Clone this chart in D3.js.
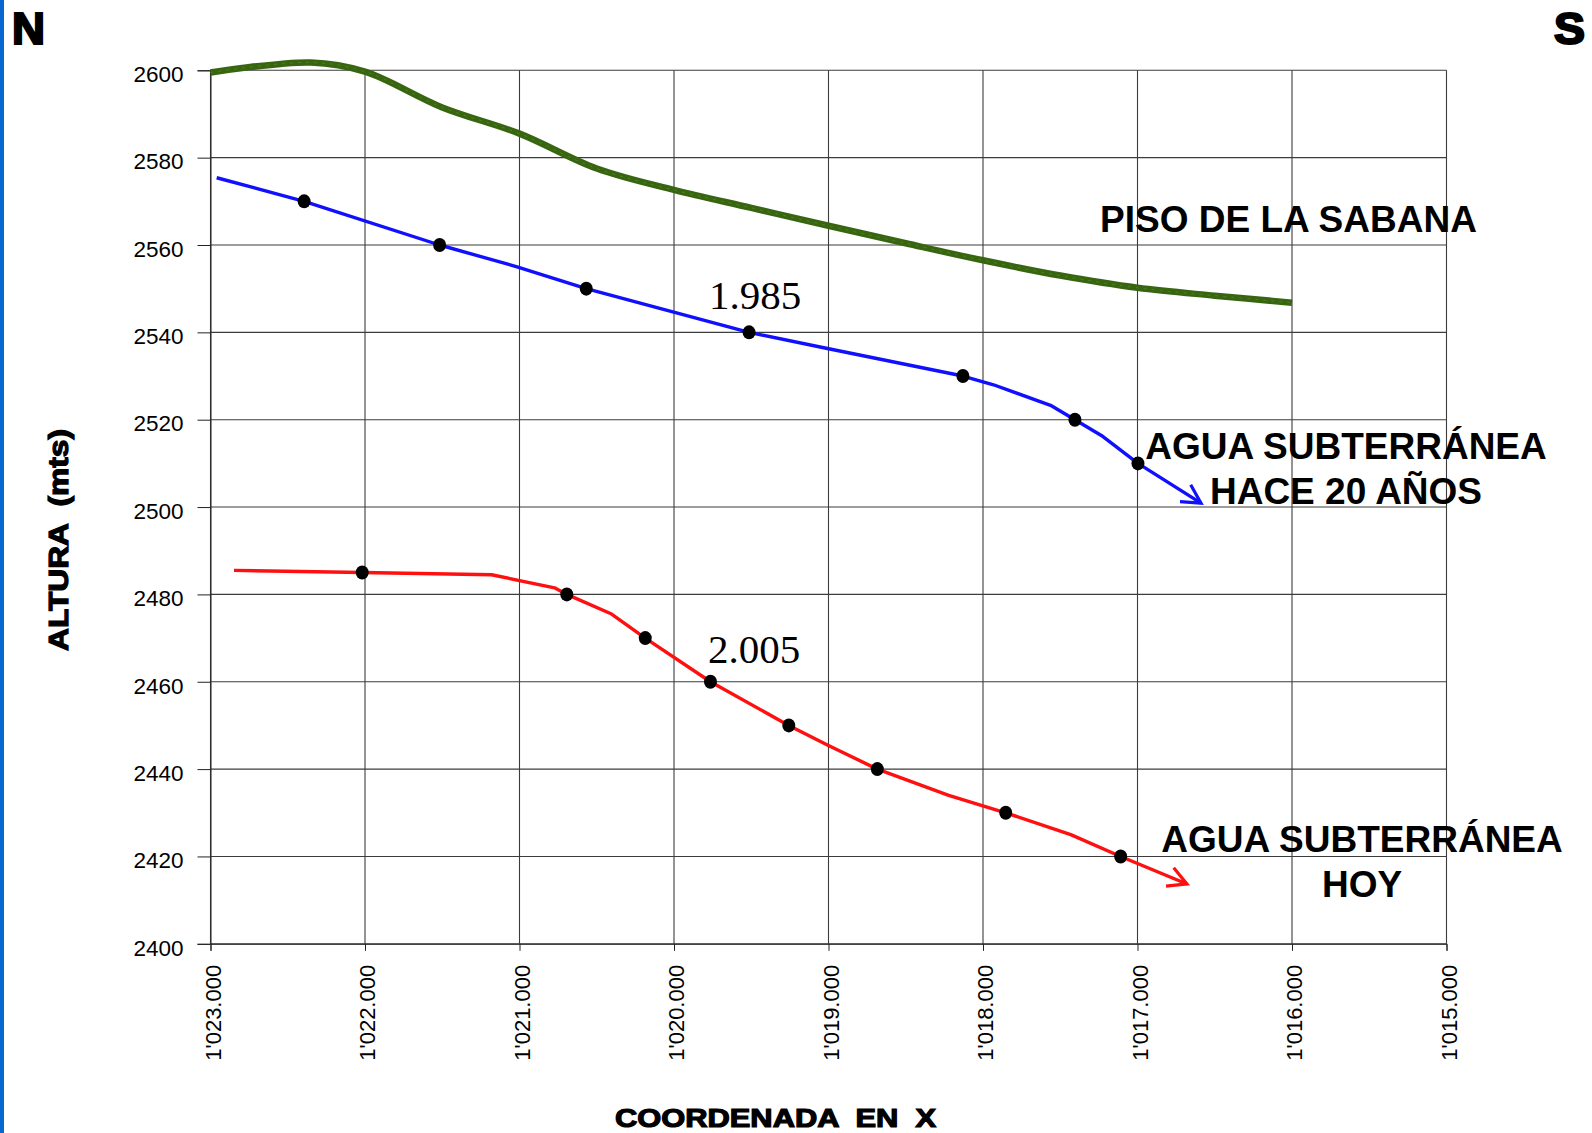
<!DOCTYPE html>
<html>
<head>
<meta charset="utf-8">
<script src="https://cdn.jsdelivr.net/npm/d3@7"></script>
<style>
  html, body { margin: 0; padding: 0; background: #fff; }
  svg { display: block; }
  text { white-space: pre; }
</style>
</head>
<body>
<svg id="chart" width="1592" height="1133"></svg>
<script>
// ---- Data ----
const xTicks = [1023000, 1022000, 1021000, 1020000, 1019000, 1018000, 1017000, 1016000, 1015000];
const xTickLabels = ["1'023.000", "1'022.000", "1'021.000", "1'020.000", "1'019.000", "1'018.000", "1'017.000", "1'016.000", "1'015.000"];
const yTicks = [2400, 2420, 2440, 2460, 2480, 2500, 2520, 2540, 2560, 2580, 2600];

// Piso de la Sabana (ground surface)
const sabanaX = [1023000, 1022350, 1022000, 1021500, 1021000, 1020500, 1020000, 1019500, 1019000, 1018500, 1018000, 1017500, 1017000, 1016500, 1016000];
const sabanaY = [2599.5, 2601.8, 2599.7, 2591.5, 2585.5, 2577.5, 2572.6, 2568.5, 2564.4, 2560.4, 2556.5, 2553.0, 2550.2, 2548.4, 2546.8];

// Agua subterránea hace 20 años (1985) - line vertices
const agua1985X = [1022960, 1022394, 1021517, 1021016, 1020568, 1019514, 1019007, 1018130, 1017932, 1017563, 1017405, 1017234, 1016997, 1016589];
const agua1985Y = [2575.4, 2570, 2560, 2555, 2550, 2540, 2536.3, 2530, 2528, 2523.3, 2520, 2516.4, 2510, 2500.9];
// measured points 1985
const pts1985X = [1022394, 1021517, 1020568, 1019514, 1018130, 1017405, 1016997];
const pts1985Y = [2570, 2560, 2550, 2540, 2530, 2520, 2510];

// Agua subterránea hoy (2005) - line vertices
const agua2005X = [1022848, 1022018, 1021181, 1020773, 1020694, 1020404, 1020186, 1019764, 1019257, 1019007, 1018684, 1018222, 1017853, 1017432, 1017109, 1016680];
const agua2005Y = [2485.5, 2485.0, 2484.5, 2481.5, 2480, 2475.5, 2470, 2460, 2450, 2445.5, 2440, 2434, 2430, 2425, 2420, 2413.7];
// measured points 2005
const pts2005X = [1022018, 1020694, 1020186, 1019764, 1019257, 1018684, 1017853, 1017109];
const pts2005Y = [2485, 2480, 2470, 2460, 2450, 2440, 2430, 2420];

// ---- Chart ----
const svg = d3.select("#chart");
const FONT = "'Liberation Sans', Arial, sans-serif";

const x = d3.scaleLinear().domain([1023000, 1015000]).range([210.5, 1446.5]);
const y = d3.scaleLinear().domain([2400, 2600]).range([943.8, 70.3]);

// left blue bar
svg.append("rect").attr("x", 0).attr("y", 0).attr("width", 4).attr("height", 1133).attr("fill", "#0866d0");

// grid
const grid = svg.append("g").attr("stroke", "#3c3c3c").attr("stroke-width", 1.1);
grid.selectAll("line.v").data(xTicks).join("line")
  .attr("x1", d => x(d)).attr("x2", d => x(d))
  .attr("y1", y(2600)).attr("y2", y(2400));
grid.selectAll("line.h").data(yTicks).join("line")
  .attr("x1", x(1023000)).attr("x2", x(1015000))
  .attr("y1", d => y(d)).attr("y2", d => y(d));

// y axis
const yAxis = d3.axisLeft(y).tickValues(yTicks).tickSize(13).tickPadding(14).tickFormat(d3.format("d"));
const gy = svg.append("g").attr("transform", `translate(${x(1023000)},0)`).call(yAxis);
gy.select(".domain").attr("stroke", "#222");
gy.selectAll(".tick line").attr("stroke", "#222");
gy.selectAll(".tick text").attr("font-family", FONT).attr("font-size", 22.5).attr("fill", "#000").attr("dy", "0.5em");

// x axis
const xAxis = d3.axisBottom(x).tickValues(xTicks).tickSize(7).tickFormat((d, i) => xTickLabels[i]);
const gx = svg.append("g").attr("transform", `translate(0,${y(2400)})`).call(xAxis);
gx.select(".domain").attr("stroke", "#222");
gx.selectAll(".tick line").attr("stroke", "#222");
gx.selectAll(".tick text")
  .attr("font-family", FONT).attr("font-size", 22).attr("fill", "#000")
  .attr("text-anchor", "end")
  .attr("transform", "translate(2,21) rotate(-90)")
  .attr("x", 0).attr("y", 0).attr("dy", "0.36em");

// arrow markers
const defs = svg.append("defs");
function arrow(id, color) {
  defs.append("marker").attr("id", id)
    .attr("markerUnits", "userSpaceOnUse")
    .attr("viewBox", "-22 -12 26 24")
    .attr("refX", 0).attr("refY", 0)
    .attr("markerWidth", 26).attr("markerHeight", 24)
    .attr("orient", "auto")
    .append("path").attr("d", "M-18.5,-10 L0,0 L-18.5,10")
    .attr("fill", "none").attr("stroke", color).attr("stroke-width", 3.2)
    .attr("stroke-linecap", "butt").attr("stroke-linejoin", "miter");
}
arrow("arrBlue", "#1010ff");
arrow("arrRed", "#ff1010");

// green ground line
const sabana = sabanaX.map((v, i) => [v, sabanaY[i]]);
const smooth = d3.line().x(d => x(d[0])).y(d => y(d[1])).curve(d3.curveCatmullRom.alpha(0.5));
svg.append("path").attr("d", smooth(sabana))
  .attr("fill", "none").attr("stroke", "#386610").attr("stroke-width", 6.5).attr("stroke-linecap", "butt");
svg.append("path").attr("d", smooth(sabana))
  .attr("fill", "none").attr("stroke", "#5d8a35").attr("stroke-width", 1).attr("stroke-dasharray", "3,5").attr("opacity", 0.6);

const straight = d3.line().x(d => x(d[0])).y(d => y(d[1]));

// blue 1985 line
const a85 = agua1985X.map((v, i) => [v, agua1985Y[i]]);
svg.append("path").attr("d", straight(a85))
  .attr("fill", "none").attr("stroke", "#1010ff").attr("stroke-width", 3.4)
  .attr("stroke-linejoin", "round")
  .attr("marker-end", "url(#arrBlue)");

// red 2005 line
const a05 = agua2005X.map((v, i) => [v, agua2005Y[i]]);
svg.append("path").attr("d", straight(a05))
  .attr("fill", "none").attr("stroke", "#ff1010").attr("stroke-width", 3.4)
  .attr("stroke-linejoin", "round")
  .attr("marker-end", "url(#arrRed)");

// markers
const m85 = pts1985X.map((v, i) => [v, pts1985Y[i]]);
const m05 = pts2005X.map((v, i) => [v, pts2005Y[i]]);
svg.append("g").selectAll("ellipse").data(m85.concat(m05)).join("ellipse")
  .attr("cx", d => x(d[0])).attr("cy", d => y(d[1]))
  .attr("rx", 6.5).attr("ry", 7).attr("fill", "#000");

// text labels
function heavy(sel) {
  return sel.attr("font-family", FONT).attr("font-weight", 700).attr("fill", "#000");
}
heavy(svg.append("text").attr("x", 12).attr("y", 44).attr("font-size", 44)
  .attr("stroke", "#000").attr("stroke-width", 2.2).attr("textLength", 33).attr("lengthAdjust", "spacingAndGlyphs").text("N"));
heavy(svg.append("text").attr("x", 1554).attr("y", 44).attr("font-size", 44)
  .attr("stroke", "#000").attr("stroke-width", 2.2).attr("textLength", 31).attr("lengthAdjust", "spacingAndGlyphs").text("S"));

heavy(svg.append("text").attr("font-size", 27)
  .attr("transform", "translate(68,540) rotate(-90)").attr("text-anchor", "middle")
  .attr("stroke", "#000").attr("stroke-width", 1.2)
  .attr("textLength", 222).attr("lengthAdjust", "spacingAndGlyphs")
  .text("ALTURA  (mts)"));

heavy(svg.append("text").attr("font-size", 26)
  .attr("x", 615).attr("y", 1127)
  .attr("stroke", "#000").attr("stroke-width", 1.2)
  .attr("textLength", 321).attr("lengthAdjust", "spacingAndGlyphs")
  .text("COORDENADA  EN  X"));

heavy(svg.append("text").attr("font-size", 37).attr("x", 1100).attr("y", 232).text("PISO DE LA SABANA"));

heavy(svg.append("text").attr("font-size", 37).attr("x", 1346).attr("y", 459).attr("text-anchor", "middle").text("AGUA SUBTERRÁNEA"));
heavy(svg.append("text").attr("font-size", 37).attr("x", 1346).attr("y", 504).attr("text-anchor", "middle").text("HACE 20 AÑOS"));

heavy(svg.append("text").attr("font-size", 37).attr("x", 1362).attr("y", 852).attr("text-anchor", "middle").text("AGUA SUBTERRÁNEA"));
heavy(svg.append("text").attr("font-size", 37).attr("x", 1362).attr("y", 897).attr("text-anchor", "middle").text("HOY"));

const SERIF = "'Liberation Serif', 'Times New Roman', serif";
svg.append("text").attr("font-family", SERIF).attr("font-size", 41).attr("x", 709).attr("y", 309).attr("fill", "#000").text("1.985");
svg.append("text").attr("font-family", SERIF).attr("font-size", 41).attr("x", 708).attr("y", 663).attr("fill", "#000").text("2.005");
</script>
</body>
</html>
